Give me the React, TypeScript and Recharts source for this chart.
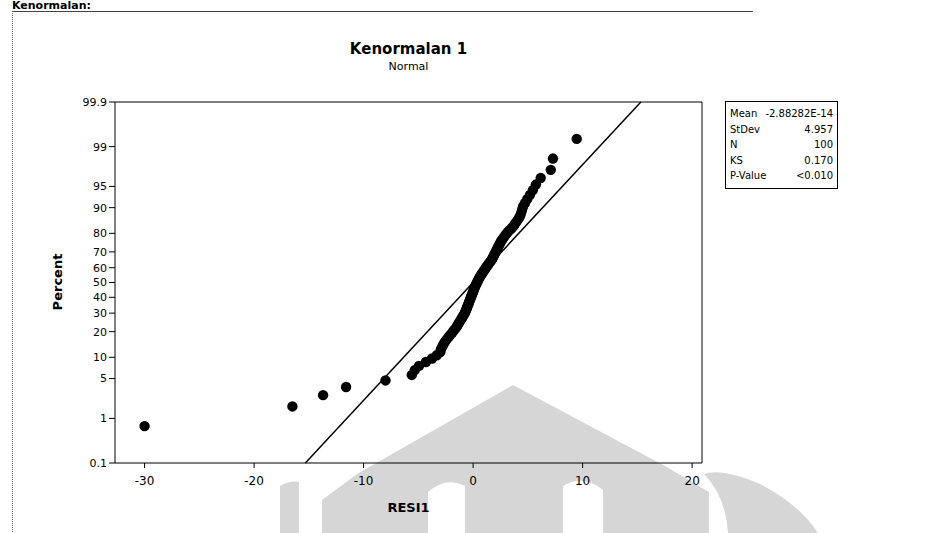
import { ScatterChart, Scatter, XAxis, YAxis, ReferenceLine } from "recharts";

// residuals, sorted
const residuals = [
  -30.0, -16.5, -13.7, -11.6, -8.0, -5.6, -5.33, -4.94, -4.31, -3.75,
  -3.32, -3.0, -2.94, -2.8, -2.7, -2.55, -2.39, -2.22, -2.06, -1.9,
  -1.76, -1.6, -1.49, -1.38, -1.28, -1.18, -1.08, -0.98, -0.89, -0.79,
  -0.72, -0.66, -0.6, -0.55, -0.49, -0.43, -0.38, -0.33, -0.28, -0.22,
  -0.17, -0.12, -0.06, -0.01, 0.04, 0.09, 0.14, 0.2, 0.26, 0.33,
  0.39, 0.46, 0.52, 0.59, 0.67, 0.76, 0.85, 0.94, 1.03, 1.12,
  1.21, 1.31, 1.41, 1.51, 1.63, 1.72, 1.8, 1.87, 1.94, 2.02,
  2.09, 2.17, 2.25, 2.33, 2.42, 2.5, 2.59, 2.72, 2.85, 2.97,
  3.13, 3.3, 3.52, 3.7, 3.84, 4.0, 4.16, 4.3, 4.39, 4.47,
  4.56, 4.74, 4.94, 5.19, 5.46, 5.73, 6.17, 7.09, 7.29, 9.46,
];

const percentTicks = [0.1, 1, 5, 10, 20, 30, 40, 50, 60, 70, 80, 90, 95, 99, 99.9];
const xTicks = [-30, -20, -10, 0, 10, 20];
const statLabels = ["Mean", "StDev", "N", "KS", "P-Value"];
const statValues = ["-2.88282E-14", "4.957", "100", "0.170", "<0.010"];
const fitMean = 0;
const fitStDev = 4.957;

// inverse normal cdf (Acklam)
function probit(p: number): number {
  const a = [-39.69683028665376, 220.9460984245205, -275.9285104469687, 138.357751867269, -30.66479806614716, 2.506628277459239];
  const b = [-54.47609879822406, 161.5858368580409, -155.6989798598866, 66.80131188771972, -13.28068155288572];
  const c = [-0.007784894002430293, -0.3223964580411365, -2.400758277161838, -2.549732539343734, 4.374664141464968, 2.938163982698783];
  const d = [0.007784695709041462, 0.3224671290700398, 2.445134137142996, 3.754408661907416];
  const pl = 0.02425;
  if (p < pl) {
    const q = Math.sqrt(-2 * Math.log(p));
    return (((((c[0] * q + c[1]) * q + c[2]) * q + c[3]) * q + c[4]) * q + c[5]) / ((((d[0] * q + d[1]) * q + d[2]) * q + d[3]) * q + 1);
  }
  if (p > 1 - pl) {
    const q = Math.sqrt(-2 * Math.log(1 - p));
    return -(((((c[0] * q + c[1]) * q + c[2]) * q + c[3]) * q + c[4]) * q + c[5]) / ((((d[0] * q + d[1]) * q + d[2]) * q + d[3]) * q + 1);
  }
  const q = p - 0.5;
  const r = q * q;
  return ((((((a[0] * r + a[1]) * r + a[2]) * r + a[3]) * r + a[4]) * r + a[5]) * q) / (((((b[0] * r + b[1]) * r + b[2]) * r + b[3]) * r + b[4]) * r + 1);
}

const n = residuals.length;
// median-rank plotting positions
const points = residuals.map((x, i) => ({ x, z: probit((i + 1 - 0.3) / (n + 0.4)) }));
const zMin = probit(0.001);
const zMax = probit(0.999);
const yTicks = percentTicks.map((p) => probit(p / 100));
const fitLine = [
  { x: fitMean + fitStDev * zMin, y: zMin },
  { x: fitMean + fitStDev * zMax, y: zMax },
];
const xMin = -32.7;
const xMax = 20.9;

const font = "'DejaVu Sans', Verdana, sans-serif";

const percentLabel = (v: number) => {
  const i = yTicks.findIndex((t) => Math.abs(t - v) < 1e-6);
  return i >= 0 ? String(percentTicks[i]) : "";
};

const Dot = (props: any) => <circle cx={props.cx} cy={props.cy} r={5.2} fill="#000" />;

export default function App() {
  return (
    <div
      style={{
        position: "absolute",
        left: 0,
        top: 0,
        width: 928,
        height: 533,
        background: "#fff",
        overflow: "hidden",
        fontFamily: font,
        color: "#000",
      }}
    >
      {/* watermark behind the chart */}
      <svg width={928} height={533} style={{ position: "absolute", left: 0, top: 0 }}>
        <path d="M322 533 L322 500 L357 474 L513 385 L665 466 L709 492 L709 533 Z" fill="#d6d6d6" />
        <path d="M428 533 L428 492 Q446 476 465 486 L465 533 Z" fill="#fff" />
        <path d="M563 533 L563 486 Q583 474 603 490 L603 533 Z" fill="#fff" />
        <path d="M728 533 Q726 497 704 474 Q722 468 760 484 Q800 505 818 533 Z" fill="#d6d6d6" />
        <path d="M280 533 L280 486 Q290 480 299 482 L299 533 Z" fill="#d6d6d6" />
      </svg>

      {/* page frame from the scan */}
      <div style={{ position: "absolute", left: 12, top: 11, width: 740, height: 522, borderTop: "1px solid #444", borderLeft: "1px dotted #666" }} />
      <div style={{ position: "absolute", left: 12, top: 0, fontSize: 11, lineHeight: "11px", fontWeight: "bold", whiteSpace: "nowrap" }}>
        Kenormalan:
      </div>

      <div style={{ position: "absolute", left: 115, width: 587, top: 40, textAlign: "center", fontSize: 15, fontWeight: "bold" }}>
        Kenormalan 1
      </div>
      <div style={{ position: "absolute", left: 115, width: 587, top: 60, textAlign: "center", fontSize: 11 }}>Normal</div>

      <div style={{ position: "absolute", left: 0, top: 0 }}>
        <ScatterChart width={928} height={533} margin={{ top: 102, right: 226, bottom: 40, left: 35 }}>
          <XAxis
            type="number"
            dataKey="x"
            domain={[xMin, xMax]}
            ticks={xTicks}
            interval={0}
            allowDataOverflow
            height={30}
            tickSize={5}
            tickMargin={8}
            axisLine={{ stroke: "#000" }}
            tickLine={{ stroke: "#000" }}
            tick={{ fill: "#000", fontSize: 12, fontFamily: font }}
          />
          <YAxis
            type="number"
            dataKey="z"
            domain={[zMin, zMax]}
            ticks={yTicks}
            interval={0}
            allowDataOverflow
            width={80}
            tickSize={6}
            tickMargin={2}
            tickFormatter={percentLabel}
            axisLine={{ stroke: "#000" }}
            tickLine={{ stroke: "#000" }}
            tick={{ fill: "#000", fontSize: 11, fontFamily: font }}
          />
          <ReferenceLine y={zMax} stroke="#000" />
          <ReferenceLine x={xMax} stroke="#000" />
          <ReferenceLine segment={fitLine} stroke="#000" strokeWidth={1.5} />
          <Scatter data={points} shape={Dot} isAnimationActive={false} />
        </ScatterChart>
      </div>

      <div
        style={{
          position: "absolute",
          left: 57,
          top: 282,
          transform: "translate(-50%, -50%) rotate(-90deg)",
          fontSize: 13,
          fontWeight: "bold",
        }}
      >
        Percent
      </div>
      <div style={{ position: "absolute", left: 115, width: 587, top: 500, textAlign: "center", fontSize: 13, fontWeight: "bold" }}>
        RESI1
      </div>

      {/* stats box */}
      <div
        style={{
          position: "absolute",
          left: 725,
          top: 101,
          width: 113,
          border: "1px solid #000",
          padding: "4px 4px",
          fontSize: 10,
          lineHeight: "15.5px",
          boxSizing: "border-box",
          background: "#fff",
        }}
      >
        {statLabels.map((l, i) => (
          <div key={l} style={{ display: "flex", justifyContent: "space-between" }}>
            <span>{l}</span>
            <span>{statValues[i]}</span>
          </div>
        ))}
      </div>
    </div>
  );
}
